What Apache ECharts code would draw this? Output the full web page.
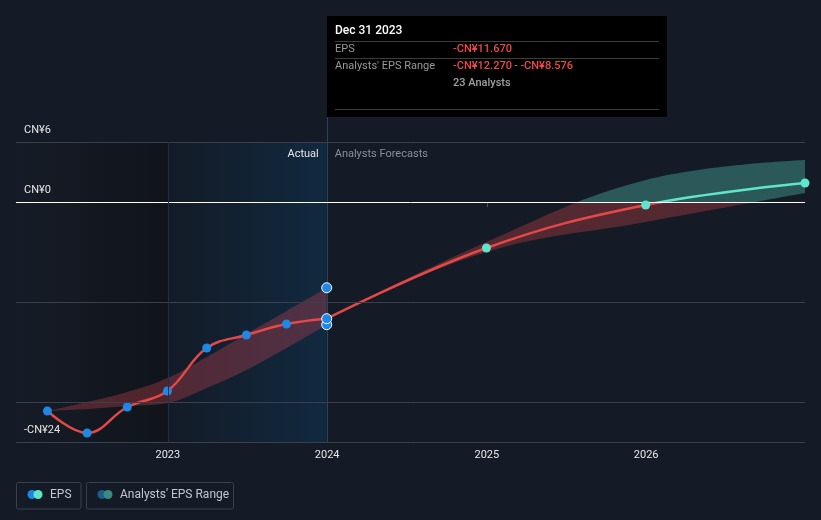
<!DOCTYPE html>
<html><head><meta charset="utf-8">
<script src="https://cdn.jsdelivr.net/npm/echarts@6/dist/echarts.min.js"></script>
<style>html,body{margin:0;padding:0;background:#151b26;}#c{width:821px;height:520px;}</style>
</head><body><div id="c"></div>
<script>
// ---- data ----
const actualDates = ['2022-03-31','2022-06-30','2022-09-30','2022-12-31','2023-03-31','2023-06-30','2023-09-30','2023-12-31'];
const actualEps = [-20.9,-23.1,-20.5,-18.9,-14.6,-13.3,-12.2,-11.67];
const pastRangeLow = [-20.9,-20.7,-20.4,-20.1,-18.6,-16.8,-14.6,-12.27];
const pastRangeHigh = [-20.9,-20.0,-19.0,-17.6,-15.5,-13.2,-10.9,-8.576];
const forecastDates = ['2023-12-31','2024-12-31','2025-12-31','2026-12-31'];
const forecastEps = [-11.67,-4.6,-0.3,1.9];
const forecastLow = [-11.67,-5.0,-2.0,0.9];
const forecastHigh = [-11.67,-4.0,2.2,4.2];
const yLabelValues = [6,0,-24];
const gridValues = [6,-10,-20,-24];
const zeroValue = 0;
const xMin = '2022-01-18', xMax = '2026-12-31';
const highlightStart = '2023-01-01';
const forecastStart = '2023-12-31';
const tooltipDate = '2023-12-31';
const tooltipTitle = 'Dec 31 2023';
const analystsCount = 23;

// ---- helpers ----
const RED = '#e64848', TEAL = '#5ee6cc', BLUE = '#1e88e5';
const FONT = 'Roboto, "Noto Sans", sans-serif';
const fmt = (v, d) => (v < 0 ? '-' : '') + 'CN¥' + (d ? Math.abs(v).toFixed(d) : Math.abs(v));
const pair = (ds, vs) => ds.map((d, i) => [d, vs[i]]);
const diff = (ds, lo, hi) => ds.map((d, i) => [d, +(hi[i] - lo[i]).toFixed(4)]);
const last = actualDates.length - 1;

const chart = echarts.init(document.getElementById('c'), null, {renderer: 'canvas'});
const year = 365 * 24 * 3600 * 1000;

const option = {
  backgroundColor: '#151b26',
  animation: false,
  grid: {left: 16, right: 16, top: 142, bottom: 78},
  xAxis: {
    type: 'time', min: xMin, max: xMax,
    minInterval: year, maxInterval: year * 1.01,
    axisLine: {lineStyle: {color: '#3b414c'}},
    axisTick: {show: true, length: 5, lineStyle: {color: '#4a505b'}},
    axisLabel: {color: '#e8e8e8', fontSize: 11, fontFamily: FONT, margin: 8,
      formatter: function (v) { const d = new Date(v); return (d.getMonth() === 0 && d.getDate() === 1) ? String(d.getFullYear()) : ''; }},
    splitLine: {show: false}
  },
  yAxis: {
    type: 'value', min: -24, max: 6,
    axisLine: {show: false}, axisTick: {show: false}, axisLabel: {show: false}, splitLine: {show: false}
  },
  series: [
    {
      type: 'line', name: 'pastLow', stack: 'past', stackStrategy: 'all', smooth: 0.4, symbol: 'none', silent: true,
      lineStyle: {opacity: 0}, data: pair(actualDates, pastRangeLow), z: 1,
      markArea: {
        silent: true,
        data: [
          [{xAxis: xMin, itemStyle: {color: {type: 'linear', x: 0, y: 0, x2: 1, y2: 0,
              colorStops: [{offset: 0, color: '#161c27'}, {offset: 1, color: '#10141a'}]}}}, {xAxis: highlightStart}],
          [{xAxis: highlightStart, itemStyle: {color: {type: 'linear', x: 0, y: 0, x2: 1, y2: 0,
              colorStops: [{offset: 0, color: '#131b27'}, {offset: 1, color: '#11293f'}]}}}, {xAxis: forecastStart}]
        ]
      },
      markLine: {
        silent: true, symbol: ['none', 'none'],
        label: {show: false},
        lineStyle: {color: '#3b414c', width: 1, type: 'solid'},
        data: gridValues.map(v => ({
          yAxis: v,
          label: yLabelValues.indexOf(v) >= 0 ? {show: true, position: 'insideStartTop', distance: [8, 6],
            color: '#e6e6e6', fontSize: 11, fontFamily: FONT, formatter: () => fmt(v)} : {show: false}
        })).concat([
          {yAxis: zeroValue, lineStyle: {color: '#ffffff', width: 1},
           label: {show: true, position: 'insideStartTop', distance: [8, 6], color: '#e6e6e6', fontSize: 11, fontFamily: FONT, formatter: () => fmt(zeroValue)}},
          {xAxis: highlightStart, lineStyle: {color: '#1b3149', width: 1}}
        ])
      }
    },
    {
      type: 'line', name: 'pastBand', stack: 'past', stackStrategy: 'all', smooth: 0.4, symbol: 'none', silent: true,
      lineStyle: {opacity: 0}, areaStyle: {color: '#e04a55', opacity: 0.3},
      data: diff(actualDates, pastRangeLow, pastRangeHigh), z: 1
    },
    {
      type: 'line', name: 'futLow', stack: 'fut', stackStrategy: 'all', smooth: 0.4, symbol: 'none', silent: true,
      lineStyle: {opacity: 0}, data: pair(forecastDates, forecastLow), z: 1
    },
    {
      type: 'line', name: 'futBand', stack: 'fut', stackStrategy: 'all', smooth: 0.4, symbol: 'none', silent: true,
      lineStyle: {opacity: 0}, areaStyle: {color: RED, opacity: 0.3},
      data: diff(forecastDates, forecastLow, forecastHigh), z: 1
    },
    {
      type: 'line', name: 'forecast', smooth: 0.4, showSymbol: false, symbol: 'none',
      lineStyle: {width: 2.5, color: RED}, data: pair(forecastDates, forecastEps), z: 3
    },
    {
      type: 'scatter', name: 'forecastPts', symbolSize: 9, itemStyle: {color: TEAL, opacity: 1},
      data: pair(forecastDates.slice(1), forecastEps.slice(1)), z: 5
    },
    {
      type: 'line', name: 'EPS', smooth: 0.4, symbol: 'circle', symbolSize: 9, showAllSymbol: true,
      lineStyle: {color: RED, width: 2.5}, itemStyle: {color: BLUE, borderWidth: 0},
      data: pair(actualDates, actualEps), z: 4
    },
    {
      type: 'scatter', name: 'tipPts', symbolSize: 10,
      itemStyle: {color: BLUE, borderColor: '#ffffff', borderWidth: 1, opacity: 1},
      data: [[tooltipDate, pastRangeHigh[last]], [tooltipDate, pastRangeLow[last]], [tooltipDate, actualEps[last]]], z: 6
    }
  ]
};
chart.setOption(option);

// ---- colour split at zero, positioned through the chart's scale ----
const H = 520;
const y0 = chart.convertToPixel({gridIndex: 0}, [xMin, zeroValue])[1];
const split = (above, below) => ({type: 'linear', x: 0, y: 0, x2: 0, y2: H, global: true,
  colorStops: [{offset: 0, color: above}, {offset: y0 / H, color: above}, {offset: y0 / H, color: below}, {offset: 1, color: below}]});
chart.setOption({series: [{}, {}, {}, {areaStyle: {color: split(TEAL, RED), opacity: 0.3}}, {lineStyle: {color: split(TEAL, RED)}}]});

// ---- annotations positioned through the chart's own scales ----
const tipX = Math.round(chart.convertToPixel({gridIndex: 0}, [tooltipDate, 0])[0]) + 0.5;
const divX = chart.convertToPixel({gridIndex: 0}, [forecastStart, 0])[0];
const gridBottom = chart.convertToPixel({gridIndex: 0}, [xMin, -24])[1];
const boxTop = 16, boxW = 340, boxH = 101;
const txt = (x, y, text, color, size, weight, align) => ({
  type: 'text', x: x, y: y, silent: true, z: 100,
  style: {text: text, fill: color, fontSize: size || 11, fontFamily: FONT, fontWeight: weight || 'normal',
    align: align || 'left', verticalAlign: 'middle', textAlign: align || 'left', textVerticalAlign: 'middle'}
});
const hline = (x1, x2, y, color) => ({type: 'line', silent: true, shape: {x1: x1, y1: y, x2: x2, y2: y}, style: {stroke: color, lineWidth: 1}});
const lx = tipX - 0.5 + 8, vx = tipX - 0.5 + 126, rx = tipX - 0.5 + boxW - 8;
const rangeLowTxt = fmt(pastRangeLow[last], 3), rangeHighTxt = fmt(pastRangeHigh[last], 3);

const graphics = [
  {type: 'line', silent: true, z: 1, shape: {x1: tipX, y1: boxTop + boxH, x2: tipX, y2: gridBottom}, style: {stroke: '#2a4158', lineWidth: 1}},
  {type: 'rect', silent: true, shape: {x: tipX - 0.5, y: boxTop, width: boxW, height: boxH}, style: {fill: '#000000'}},
  txt(lx, boxTop + 15, tooltipTitle, '#ffffff', 12, 500),
  hline(lx, rx, boxTop + 25.5, '#3c3c3c'),
  txt(lx, boxTop + 33, 'EPS', '#9a9a9a', 11),
  txt(vx, boxTop + 33, fmt(actualEps[last], 3), '#f04848', 11, 500),
  hline(lx, rx, boxTop + 42.5, '#3c3c3c'),
  txt(lx, boxTop + 50, "Analysts' EPS Range", '#9a9a9a', 11),
  {type: 'text', x: vx, y: boxTop + 50, silent: true, z: 100, style: {
    text: '{r|' + rangeLowTxt + '}{g| - }{r|' + rangeHighTxt + '}',
    fontSize: 11, fontFamily: FONT, verticalAlign: 'middle',
    rich: {r: {fill: '#f04848', fontSize: 11, fontFamily: FONT, fontWeight: 500}, g: {fill: '#9a9a9a', fontSize: 11, fontFamily: FONT}}
  }},
  txt(vx, boxTop + 67, analystsCount + ' Analysts', '#a0a0a0', 11, 500),
  hline(lx, rx, boxTop + 93.5, '#3c3c3c'),
  txt(divX - 8, 154, 'Actual', '#e6e6e6', 11, 'normal', 'right'),
  txt(divX + 8, 154, 'Analysts Forecasts', '#8a8f98', 11, 'normal', 'left'),
  // legend
  {type: 'rect', silent: true, shape: {x: 16.5, y: 482.5, width: 64.5, height: 26.5, r: 2}, style: {fill: 'none', stroke: '#3b414c', lineWidth: 1}},
  {type: 'circle', silent: true, shape: {cx: 32, cy: 494.5, r: 4.5}, style: {fill: BLUE}},
  {type: 'circle', silent: true, shape: {cx: 38, cy: 494.5, r: 4.5}, style: {fill: TEAL}},
  txt(50, 495, 'EPS', '#c2c6cc', 12),
  {type: 'rect', silent: true, shape: {x: 86.5, y: 482.5, width: 147, height: 26.5, r: 2}, style: {fill: 'none', stroke: '#3b414c', lineWidth: 1}},
  {type: 'circle', silent: true, shape: {cx: 102, cy: 494.5, r: 4.5}, style: {fill: '#1d5b8c'}},
  {type: 'circle', silent: true, shape: {cx: 108, cy: 494.5, r: 4.5}, style: {fill: '#3b8a84'}},
  txt(120, 495, "Analysts' EPS Range", '#c2c6cc', 12)
];
chart.setOption({graphic: graphics});
</script>
</body></html>
